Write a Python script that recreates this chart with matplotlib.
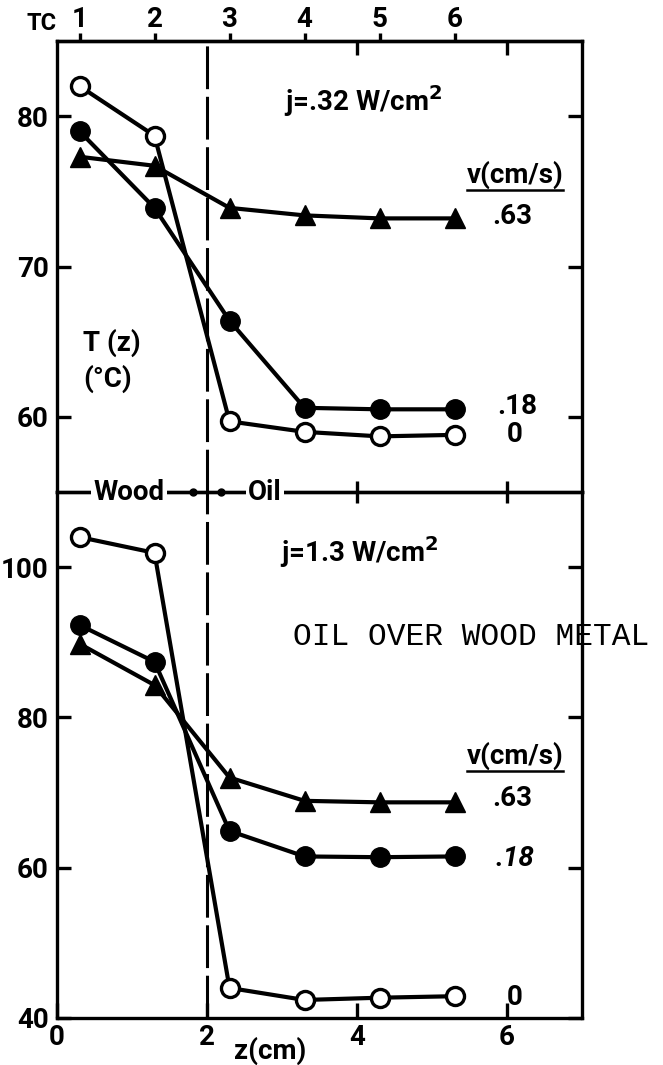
import matplotlib
matplotlib.use("Agg")
import matplotlib.pyplot as plt

plt.rcParams['font.family'] = ['Roboto', 'DejaVu Sans']
plt.rcParams['font.weight'] = 'bold'

# ---------------- data ----------------
z_tc = [0.3, 1.3, 2.3, 3.3, 4.3, 5.3]
tc_labels = ['1', '2', '3', '4', '5', '6']

# j = .32 W/cm2
top_v0 = [82.0, 78.7, 59.7, 59.0, 58.7, 58.8]
top_v018 = [79.0, 73.9, 66.4, 60.6, 60.5, 60.5]
top_v063 = [77.3, 76.7, 73.9, 73.4, 73.2, 73.2]

# j = 1.3 W/cm2
bot_v0 = [104.0, 101.9, 44.0, 42.4, 42.7, 42.9]
bot_v018 = [92.3, 87.4, 64.9, 61.5, 61.4, 61.5]
bot_v063 = [89.8, 84.3, 72.0, 68.9, 68.7, 68.7]

top_yticks = [60, 70, 80]
bot_yticks = [40, 60, 80, 100]
x_ticks = [0, 2, 4, 6]
boundary_z = 2

# ---------------- figure ----------------
W, H = 663, 1065
fig = plt.figure(figsize=(W / 100, H / 100), dpi=100)

L, R = 57, 582
T_top, SEP, B_bot = 41, 492, 1018
ax_t = fig.add_axes([L / W, 1 - SEP / H, (R - L) / W, (SEP - T_top) / H])
ax_b = fig.add_axes([L / W, 1 - B_bot / H, (R - L) / W, (B_bot - SEP) / H])

SPW = 2.4
LW = 3.0
TICKFS = 20
TXTFS = 20

for ax in (ax_t, ax_b):
    ax.set_xlim(0, 7)
    for s in ax.spines.values():
        s.set_linewidth(SPW)
    ax.axvline(boundary_z, color='black', lw=2.2, linestyle=(0, (14, 2.5)), zorder=1)

ax_t.set_ylim(55, 85)
ax_b.set_ylim(40, 110)
ax_t.spines['bottom'].set_visible(False)


def series(ax, y, kind):
    if kind == 'open':
        ax.plot(z_tc, y, color='black', lw=LW, marker='o', ms=13, mfc='white',
                mec='black', mew=2.4, zorder=3, clip_on=False)
    elif kind == 'filled':
        ax.plot(z_tc, y, color='black', lw=LW, marker='o', ms=14, mfc='black',
                mec='black', zorder=3, clip_on=False)
    else:
        ax.plot(z_tc, y, color='black', lw=LW, marker='^', ms=15, mfc='black',
                mec='black', zorder=3, clip_on=False)


series(ax_t, top_v063, 'tri')
series(ax_t, top_v018, 'filled')
series(ax_t, top_v0, 'open')
series(ax_b, bot_v063, 'tri')
series(ax_b, bot_v018, 'filled')
series(ax_b, bot_v0, 'open')

# ---- ticks: top panel ----
ax_t.set_yticks(top_yticks)
ax_t.tick_params(axis='y', which='both', direction='in', length=10, width=SPW,
                 left=True, right=True, labelsize=TICKFS, pad=6)
ax_t.set_xticks([4, 6])
ax_t.tick_params(axis='x', direction='in', length=10, width=SPW, top=True,
                 bottom=False, labelbottom=False, labeltop=False)

sec = ax_t.secondary_xaxis('top')
sec.set_xticks(z_tc, labels=tc_labels)
sec.tick_params(direction='out', length=6, width=SPW, labelsize=TICKFS, pad=0)
sec.spines['top'].set_linewidth(SPW)
fig.text(42 / W, 1 - 24 / H, 'TC', ha='center', va='center', fontsize=17)

# ---- ticks: bottom panel ----
ax_b.set_yticks(bot_yticks)
ax_b.tick_params(axis='y', direction='in', length=10, width=SPW,
                 left=True, right=True, labelsize=TICKFS, pad=6)
ax_b.set_xticks(x_ticks)
ax_b.tick_params(axis='x', direction='in', length=11, width=SPW,
                 labelsize=TICKFS, pad=4)
sep = ax_b.secondary_xaxis('top')
sep.set_xticks([4, 6], labels=['', ''])
sep.tick_params(direction='inout', length=16, width=SPW)
sep.spines['top'].set_linewidth(SPW)

ax_b.text(2.84, -0.062, 'z(cm)', transform=ax_b.get_xaxis_transform(),
          ha='center', va='center', fontsize=TICKFS, clip_on=False)

# ---- separator labels ----
sep_y = 1.0
ax_b.text(0.96, sep_y, 'Wood', transform=ax_b.get_xaxis_transform(), ha='center',
          va='center', fontsize=TICKFS, zorder=5,
          bbox=dict(facecolor='white', edgecolor='none', pad=1.5), clip_on=False)
ax_b.text(2.77, sep_y, 'Oil', transform=ax_b.get_xaxis_transform(), ha='center',
          va='center', fontsize=TICKFS, zorder=5,
          bbox=dict(facecolor='white', edgecolor='none', pad=1.5), clip_on=False)
ax_b.plot([1.81, 2.19], [sep_y, sep_y], transform=ax_b.get_xaxis_transform(),
          ls='none', marker='o', ms=5, color='black', clip_on=False, zorder=6)

# ---- annotations: top ----
ax_t.text(3.03, 81.0, 'j=.32 W/cm$^\\mathbf{2}$', fontsize=TXTFS, ha='left', va='center')
ax_t.text(5.47, 76.1, 'v(cm/s)', fontsize=TXTFS, ha='left', va='center')
ax_t.plot([5.47, 6.74], [75.1, 75.1], color='black', lw=1.8, clip_on=False)
ax_t.text(5.81, 73.3, '.63', fontsize=TXTFS, ha='left', va='center')
ax_t.text(5.87, 60.7, '.18', fontsize=TXTFS, ha='left', va='center')
ax_t.text(5.99, 58.8, '0', fontsize=TXTFS, ha='left', va='center')
ax_t.text(0.35, 64.9, 'T (z)', fontsize=TXTFS, ha='left', va='center')
ax_t.text(0.35, 62.5, '(°C)', fontsize=TXTFS, ha='left', va='center')

# ---- annotations: bottom ----
ax_b.text(2.97, 102.0, 'j=1.3 W/cm$^\\mathbf{2}$', fontsize=TXTFS, ha='left', va='center')
ax_b.text(5.47, 74.9, 'v(cm/s)', fontsize=TXTFS, ha='left', va='center')
ax_b.plot([5.47, 6.74], [72.9, 72.9], color='black', lw=1.8, clip_on=False)
ax_b.text(5.81, 69.2, '.63', fontsize=TXTFS, ha='left', va='center')
ax_b.text(5.84, 61.2, '.18', fontsize=TXTFS, ha='left', va='center', style='italic')
ax_b.text(5.99, 42.7, '0', fontsize=TXTFS, ha='left', va='center')

fig.text(293 / W, 1 - 637 / H, 'OIL OVER WOOD METAL', family='Liberation Mono',
         fontsize=22.5, ha='left', va='center', weight='normal')

fig.savefig('out.png', dpi=100)
